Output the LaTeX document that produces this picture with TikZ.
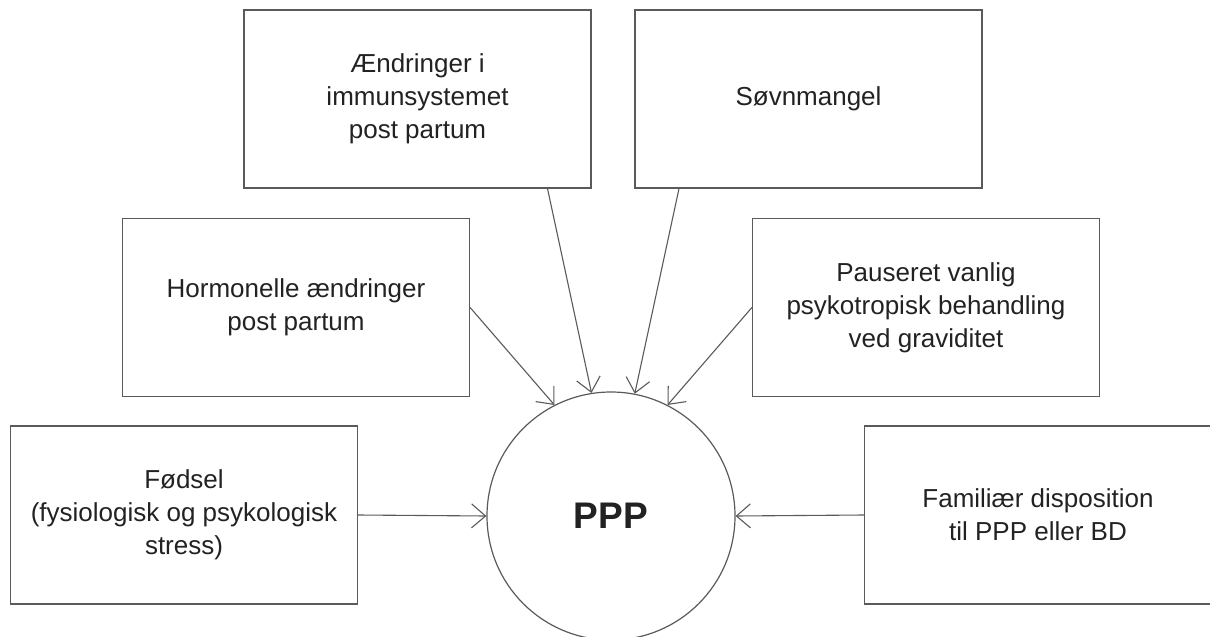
\documentclass[tikz,border=0pt]{standalone}
\usepackage{fontspec}
\setmainfont{Liberation Sans}
\usetikzlibrary{shapes.geometric, arrows.meta, positioning, calc}
\definecolor{linegray}{HTML}{5A5A5A}
\definecolor{textgray}{HTML}{222222}
\tikzstyle{cause} = [rectangle, draw=linegray, line width=1.2pt, minimum width=347pt, minimum height=178pt,
    align=center, text=textgray, font=\fontsize{26}{33}\selectfont]
\tikzstyle{arrow} = [line width=1.1pt, draw=linegray, -{Straight Barb[length=14pt,width=24pt]}]

\begin{document}
\begin{tikzpicture}[x=1pt, y=-1pt]
    \useasboundingbox (0,0) rectangle (1210,637);
    \node[circle, draw=linegray, line width=1.2pt, minimum size=248pt, inner sep=0pt,
        text=textgray, font=\fontsize{37}{40}\selectfont\bfseries] (ppp) at (611,516) {PPP};
    % top row
    \node[cause] (immun) at (417.5,99) {Ændringer i\\immunsystemet\\post partum};
    \node[cause] (soevn) at (808.5,99) {Søvnmangel};
    % middle row
    \node[cause] (hormon) at (296,307.5) {Hormonelle ændringer\\post partum};
    \node[cause] (pause) at (926,307.5) {Pauseret vanlig\\psykotropisk behandling\\ved graviditet};
    % bottom row
    \node[cause] (foedsel) at (184,515) {Fødsel\\(fysiologisk og psykologisk\\stress)};
    \node[cause] (familie) at (1038,515) {Familiær disposition\\til PPP eller BD};

    \draw[arrow] ([xshift=130pt]immun.south) -- (ppp.99);
    \draw[arrow] ([xshift=-129.5pt]soevn.south) -- (ppp.79);
    \draw[arrow] (hormon.east) -- (ppp.117);
    \draw[arrow] (pause.west) -- (ppp.63);
    \draw[arrow] (foedsel.east) -- (ppp.west);
    \draw[arrow] (familie.west) -- (ppp.east);
\end{tikzpicture}
\end{document}
